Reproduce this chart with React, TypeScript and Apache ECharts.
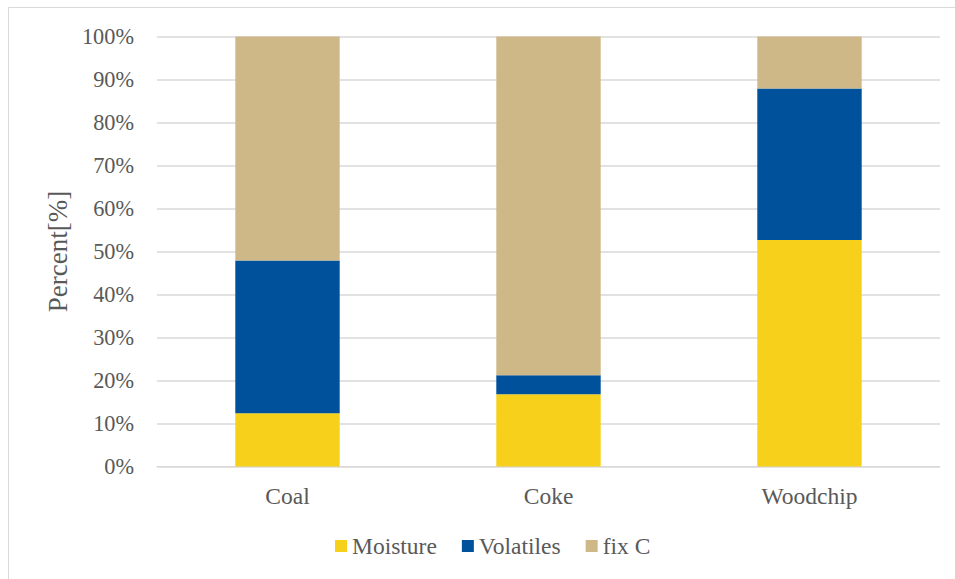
import React, { useEffect, useRef } from "react";
import * as echarts from "echarts";

const categories = ["Coal", "Coke", "Woodchip"];
const moisture = [12.4, 16.8, 52.7];
const volatiles = [35.5, 4.4, 35.2];
const fixC = [52.1, 78.8, 12.1];
const yTicks = [0, 10, 20, 30, 40, 50, 60, 70, 80, 90, 100];

const FONT = "Liberation Serif";
const TXT = "#595959";

export default function App() {
  const ref = useRef<HTMLDivElement>(null);
  useEffect(() => {
    if (!ref.current) return;
    const chart = echarts.init(ref.current, undefined, { renderer: "svg" });
    const mk = (name: string, data: number[], color: string) => ({
      name,
      type: "bar",
      stack: "total",
      data,
      barWidth: "40%",
      itemStyle: { color },
      emphasis: { disabled: true },
    });
    chart.setOption({
      animation: false,
      backgroundColor: "#ffffff",
      textStyle: { fontFamily: FONT },
      graphic: [
        {
          type: "rect",
          shape: { x: 8.5, y: 7.5, width: 1000, height: 1000 },
          style: { fill: "none", stroke: "#D9D9D9", lineWidth: 1 },
          silent: true,
        },
      ],
      grid: { left: 157, right: 15, top: 36.5, bottom: 112.5, containLabel: false },
      xAxis: {
        type: "category",
        data: categories,
        axisLine: { show: true, lineStyle: { color: "#D9D9D9", width: 1 } },
        axisTick: { show: false },
        axisLabel: { color: TXT, fontSize: 23.5, fontFamily: FONT, margin: 17 },
      },
      yAxis: {
        type: "value",
        min: 0,
        max: 100,
        interval: 10,
        name: "Percent[%]",
        nameLocation: "middle",
        nameGap: 81,
        nameTextStyle: { color: TXT, fontSize: 27, fontFamily: FONT },
        axisLine: { show: false },
        axisTick: { show: false },
        splitLine: { lineStyle: { color: "#D9D9D9", width: 1.5 } },
        axisLabel: {
          color: TXT,
          fontSize: 22.3,
          fontFamily: FONT,
          margin: 23,
          formatter: (v: number) => (yTicks.includes(v) ? v + "%" : ""),
        },
      },
      legend: {
        left: 330,
        top: 529,
        itemWidth: 12,
        itemHeight: 12,
        itemGap: 25,
        icon: "rect",
        textStyle: { color: TXT, fontSize: 23.5, fontFamily: FONT },
        data: ["Moisture", "Volatiles", "fix C"],
      },
      series: [
        mk("Moisture", moisture, "#F6D01A"),
        mk("Volatiles", volatiles, "#00519C"),
        mk("fix C", fixC, "#CFB887"),
      ],
    });
    return () => chart.dispose();
  }, []);
  return (
    <div
      ref={ref}
      style={{ position: "fixed", left: 0, top: 0, width: 955, height: 579 }}
    />
  );
}
